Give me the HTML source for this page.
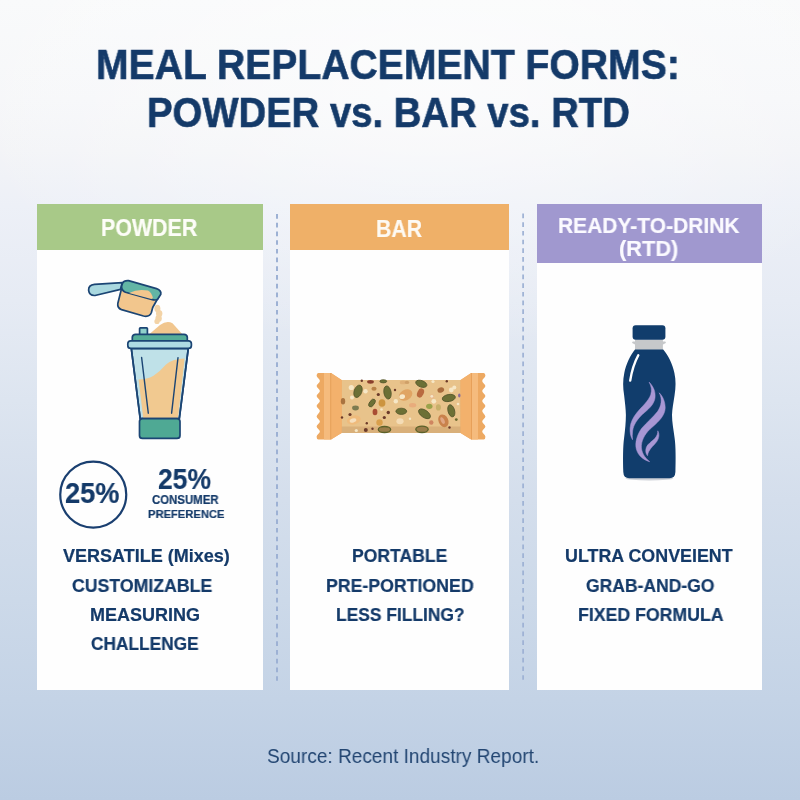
<!DOCTYPE html>
<html>
<head>
<meta charset="utf-8">
<title>Meal Replacement Forms</title>
<style>
html,body{margin:0;padding:0;}
body{width:800px;height:800px;overflow:hidden;font-family:"Liberation Sans",sans-serif;}
#page{position:relative;width:800px;height:800px;overflow:hidden;
 background:linear-gradient(180deg,#f9fafb 0px,#f6f7f9 100px,#f3f4f7 150px,#edf0f7 205px,#e6ebf4 300px,#dde5f0 400px,#d4deec 500px,#ccd9e9 600px,#c4d3e6 700px,#bbcce2 800px);}
#glow{position:absolute;left:0;top:0;width:800px;height:400px;background:radial-gradient(ellipse 480px 260px at 430px 90px,rgba(255,255,255,0.55),rgba(255,255,255,0) 100%);}
.panel{position:absolute;background:#fefefe;}
.hdr{position:absolute;}
.t{position:absolute;white-space:nowrap;line-height:1;transform-origin:0 0;will-change:transform;font-family:"Liberation Sans",sans-serif;}
svg{position:absolute;overflow:visible;}
</style>
</head>
<body>
<div id="page">
<div id="glow"></div>
<div class="panel" style="left:37px;top:204px;width:226px;height:486px;"></div>
<div class="panel" style="left:290px;top:204px;width:219px;height:486px;"></div>
<div class="panel" style="left:537px;top:204px;width:225px;height:486px;"></div>
<div class="hdr" style="left:37px;top:204px;width:226px;height:46px;background:#a8c988;"></div>
<div class="hdr" style="left:290px;top:204px;width:219px;height:46px;background:#efb068;"></div>
<div class="hdr" style="left:537px;top:204px;width:225px;height:58.5px;background:#a098cf;"></div>
<svg style="left:0;top:0" width="800" height="800" viewBox="0 0 800 800">
<line x1="277" y1="214" x2="277" y2="681.5" stroke="#9db1d4" stroke-width="2" stroke-dasharray="4.7 4.02"/>
<line x1="523.1" y1="213.5" x2="523.1" y2="681.5" stroke="#9db1d4" stroke-width="1.7" stroke-dasharray="4.7 4.01"/>
<circle cx="93.25" cy="494.6" r="33" fill="none" stroke="#1a3f70" stroke-width="2.2"/>
</svg>
<!-- shaker + scoop -->
<svg style="left:0;top:0" width="800" height="800" viewBox="0 0 800 800">
<g stroke="#1b4574" stroke-width="1.7" stroke-linejoin="round" stroke-linecap="round">
 <!-- scoop handle -->
 <path d="M122.3 282.6 L94.5 284.4 Q88.4 285.2 88.6 290.2 Q89.2 295.8 95 295.5 L120.5 289.3 Z" fill="#a9d8df"/>
 <!-- scoop body -->
 <path d="M121.3 289.5 L117.8 303.5 Q117.2 308 121.5 309.6 L143.5 316 Q149.5 317.3 151.4 312.5 L152.7 307.5 L158.6 297 L125 289 Z" fill="#f2c68d"/>
 <!-- scoop rim -->
 <path d="M122.4 283.4 Q124 280.2 128.5 280.6 L156.5 288.6 Q161.6 290.4 160.8 294.2 L157.6 299.3 Q155.8 300.6 151.5 299.4 L125.5 292.2 Q121.3 290.4 121.6 286.2 Z" fill="#62b5a5"/>
</g>
 <!-- powder inside rim -->
 <path d="M129 293 Q138 288.4 148 290.6 Q151.8 292.8 152.9 298.2 L151.4 299 Z" fill="#f2c68d"/>
 <!-- falling powder -->
 <ellipse cx="157.4" cy="308.6" rx="3" ry="3.8" fill="#f3d3a6"/>
 <ellipse cx="159.2" cy="313.6" rx="3.2" ry="3.6" fill="#f3d3a6"/>
 <ellipse cx="158.6" cy="318.4" rx="3.2" ry="3.4" fill="#f3d3a6"/>
 <ellipse cx="157" cy="321.4" rx="2.6" ry="2.6" fill="#f3d3a6"/>
 <!-- heap -->
 <path d="M149.5 334 L160 325 Q167 319.8 172.5 323.3 L182.2 334 Z" fill="#f1c68e"/>
<g stroke="#1b4574" stroke-width="1.7" stroke-linejoin="round" stroke-linecap="round">
 <!-- nub -->
 <rect x="139.6" y="327.8" width="7.8" height="7" rx="0.8" fill="#8fd0cb"/>
 <!-- glass body -->
 <path d="M131.3 348.4 L188.3 348.4 L179.3 418.6 L140.2 418.6 Z" fill="#bfe1e8"/>
</g>
 <!-- powder in glass -->
 <path d="M138.6 379.6 Q147 379.6 153.5 375.8 Q160 371.5 166 364.5 Q172 359 184.6 358.6 L178 417.9 L143.2 417.9 Z" fill="#f1c990"/>
<g stroke="#1b4574" stroke-width="1.7" stroke-linejoin="round" stroke-linecap="round" fill="none">
 <path d="M131.3 348.4 L188.3 348.4 L179.3 418.6 L140.2 418.6 Z"/>
 <line x1="141.6" y1="357.4" x2="148.3" y2="413.2" stroke-width="1.4"/>
 <line x1="178" y1="357.7" x2="171.6" y2="413.2" stroke-width="1.4"/>
 <!-- lid band -->
 <path d="M132.3 340.8 L132.3 337.2 Q132.6 334.4 135.6 334.4 L184 334.4 Q187 334.4 187.3 337.2 L187.3 340.8 Z" fill="#55ad98"/>
 <!-- lid rim -->
 <rect x="127.8" y="340.8" width="63.6" height="7.6" rx="3" fill="#aedbe3"/>
 <!-- base -->
 <rect x="139.5" y="418.6" width="40.5" height="19.8" rx="3" fill="#4fa994"/>
</g>
</svg>
<!-- bar -->
<svg style="left:0;top:0" width="800" height="800" viewBox="0 0 800 800">
 <!-- body -->
 <rect x="340" y="380" width="121" height="53" fill="#e8c38b"/>
 <rect x="340" y="426.5" width="121" height="6.5" fill="#d9b07a"/>
 <!-- left wrapper -->
  <path d="M331 373 L318.40000000000003 373 Q316.6 373 316.6 375.8 C316.6 377.33 319.9 379.37 319.9 380.9 C319.9 382.43 316.6 384.47 316.6 386 C316.6 387.50 319.9 389.50 319.9 391 C319.9 392.50 316.6 394.50 316.6 396 C316.6 397.50 319.9 399.50 319.9 401 C319.9 402.50 316.6 404.50 316.6 406 C316.6 407.50 319.9 409.50 319.9 411 C319.9 412.65 316.6 414.85 316.6 416.5 C316.6 418.00 319.9 420.00 319.9 421.5 C319.9 423.00 316.6 425.00 316.6 426.5 C316.6 428.03 319.9 430.07 319.9 431.6 C319.9 433.13 316.6 435.17 316.6 436.7 Q316.6 439.5 318.40000000000003 439.5 L331 439.5 L341.6 433 L341.6 380 Z" fill="#eda962"/>
 <path d="M331 373 L341.6 380 L341.6 433 L331 439.5 Z" fill="#f3b16c"/>
 <rect x="324" y="373" width="6.5" height="66.5" fill="#f5bb7d"/>
 <rect x="330.3" y="373" width="0.9" height="66.5" fill="#e6a058"/>
 <!-- right wrapper -->
 <path d="M471.2 373 L483.59999999999997 373 Q485.4 373 485.4 375.8 C485.4 377.33 482.2 379.37 482.2 380.9 C482.2 382.43 485.4 384.47 485.4 386 C485.4 387.50 482.2 389.50 482.2 391 C482.2 392.50 485.4 394.50 485.4 396 C485.4 397.50 482.2 399.50 482.2 401 C482.2 402.50 485.4 404.50 485.4 406 C485.4 407.50 482.2 409.50 482.2 411 C482.2 412.65 485.4 414.85 485.4 416.5 C485.4 418.00 482.2 420.00 482.2 421.5 C482.2 423.00 485.4 425.00 485.4 426.5 C485.4 428.03 482.2 430.07 482.2 431.6 C482.2 433.13 485.4 435.17 485.4 436.7 Q485.4 439.5 483.59999999999997 439.5 L471.2 439.5 L460.6 433 L460.6 380 Z" fill="#eda962"/>
 <path d="M471.2 373 L460.6 380 L460.6 433 L471.2 439.5 Z" fill="#f3b16c"/>
 <rect x="472" y="373" width="6" height="66.5" fill="#f5bb7d"/>
 <rect x="471.1" y="373" width="0.9" height="66.5" fill="#e6a058"/>
 <!-- seeds -->
 <g fill="#6c7035" stroke="#53552a" stroke-width="0.8">
  <ellipse cx="358" cy="391.3" rx="3.8" ry="6.4" transform="rotate(20 358 391.3)"/>
  <ellipse cx="387.5" cy="392.5" rx="3.6" ry="6.6" transform="rotate(-10 387.5 392.5)"/>
  <ellipse cx="421.3" cy="383.8" rx="5.8" ry="3.2" transform="rotate(20 421.3 383.8)"/>
  <ellipse cx="448.8" cy="398" rx="6.6" ry="3.5" transform="rotate(-10 448.8 398)"/>
  <ellipse cx="451.3" cy="410.8" rx="3.3" ry="6.2" transform="rotate(-15 451.3 410.8)"/>
  <ellipse cx="424.5" cy="413.8" rx="6.8" ry="3.6" transform="rotate(35 424.5 413.8)"/>
  <ellipse cx="401.3" cy="411.3" rx="5.4" ry="3.1"/>
  <ellipse cx="372" cy="403" rx="2.4" ry="4.4" transform="rotate(35 372 403)"/>
  <ellipse cx="384.5" cy="429.5" rx="6.2" ry="3" fill="#9a7d4a" stroke="#5a6129" stroke-width="1.3"/>
  <ellipse cx="422" cy="429.3" rx="6.2" ry="3.2" fill="#9a7d4a" stroke="#5a6129" stroke-width="1.3"/>
  <ellipse cx="383.3" cy="381.3" rx="3.4" ry="1.6"/>
 </g>
 <ellipse cx="429.3" cy="406.3" rx="3.2" ry="2.6" fill="#9aa24a"/>
 <ellipse cx="355.5" cy="408" rx="3.4" ry="2.4" fill="#7c7b50"/>
 <g>
  <ellipse cx="370.5" cy="381.8" rx="3.4" ry="1.9" fill="#8a3f2c"/>
  <ellipse cx="420.5" cy="393" rx="3.2" ry="4.8" transform="rotate(25 420.5 393)" fill="#b96a3f"/>
  <ellipse cx="443.4" cy="420.8" rx="4.9" ry="6.6" transform="rotate(-25 443.4 420.8)" fill="#c9824c"/>
  <ellipse cx="442.6" cy="420.6" rx="1.8" ry="3.6" transform="rotate(-25 442.6 420.6)" fill="#e0a683"/>
  <ellipse cx="375" cy="412" rx="2.4" ry="3.3" fill="#a94d33"/>
  <ellipse cx="382" cy="403" rx="3.4" ry="3.8" fill="#cc943f"/>
  <ellipse cx="440.8" cy="390" rx="3.4" ry="2.6" transform="rotate(-20 440.8 390)" fill="#a86b3c"/>
  <ellipse cx="374" cy="388.8" rx="2.6" ry="2" fill="#b98247"/>
  <ellipse cx="379.5" cy="422.5" rx="3.2" ry="3.2" fill="#d9a04c"/>
  <ellipse cx="343" cy="401.3" rx="2.2" ry="3.3" fill="#a9733f"/>
  <ellipse cx="405.6" cy="395" rx="7.2" ry="5.2" transform="rotate(-30 405.6 395)" fill="#e0a463"/>
  <ellipse cx="402.4" cy="396.6" rx="2.6" ry="2.4" fill="#f8e8cc"/>
  <ellipse cx="353.8" cy="420" rx="7" ry="4.4" transform="rotate(-15 353.8 420)" fill="#efbb7c"/>
  <ellipse cx="353" cy="420.5" rx="3.4" ry="2" transform="rotate(-15 353 420.5)" fill="#f6dfbd"/>
  <ellipse cx="412.6" cy="405.2" rx="3.6" ry="2.2" fill="#e8ac7c"/>
  <ellipse cx="438.4" cy="407.4" rx="2.5" ry="3.1" fill="#c7b06a"/>
  <ellipse cx="432" cy="396.4" rx="2" ry="2" fill="#eab592"/>
  <ellipse cx="400" cy="421.3" rx="3.6" ry="3" fill="#f4dcb6"/>
  <ellipse cx="403" cy="382.4" rx="3.2" ry="1.9" fill="#dfb178"/>
  <ellipse cx="407" cy="382.4" rx="2.2" ry="1.6" fill="#cfa068"/>
 </g>
 <g fill="#6b3a2a">
  <circle cx="378.3" cy="394.5" r="1.6"/><circle cx="395" cy="390" r="1.2"/><circle cx="388.3" cy="412.5" r="1.7"/>
  <circle cx="384.3" cy="417.5" r="1.6"/><circle cx="350" cy="414.5" r="1.6"/><circle cx="365.8" cy="430" r="2"/>
  <circle cx="372.5" cy="428.8" r="1.2"/><circle cx="449.5" cy="427.5" r="1.2"/><circle cx="431.3" cy="422.5" r="2.2" fill="#cf8560"/>
  <circle cx="366.8" cy="423.3" r="1.2"/><circle cx="456.3" cy="419.6" r="1.4" fill="#6d6a30"/><circle cx="361.8" cy="380.8" r="1.2"/>
  <circle cx="446.8" cy="381.3" r="1.2"/><circle cx="342" cy="417.5" r="1.2"/><ellipse cx="459.3" cy="395.6" rx="1.2" ry="2" fill="#8a6a9a"/>
 </g>
 <g fill="#f6e7c6">
  <circle cx="351.3" cy="387.5" r="2.6"/><circle cx="365.5" cy="391.3" r="2.2"/><circle cx="395.8" cy="401.3" r="2.2"/>
  <circle cx="401.3" cy="397" r="2"/><circle cx="433.8" cy="401.3" r="2.4"/><circle cx="451.3" cy="390" r="2.4"/>
  <circle cx="454.3" cy="387.5" r="2"/><circle cx="352" cy="397.5" r="2"/><circle cx="410" cy="418.8" r="1.2"/>
  <circle cx="431.8" cy="396.3" r="1.4"/><circle cx="356.3" cy="430.5" r="1.6"/><circle cx="433" cy="381.5" r="1.6"/>
  <circle cx="458" cy="404" r="1.3"/><circle cx="381.5" cy="409.5" r="1.3"/>
 </g>
</svg>
<!-- bottle -->
<svg style="left:0;top:0" width="800" height="800" viewBox="0 0 800 800">
 <ellipse cx="649.4" cy="478.6" rx="24" ry="1.8" fill="#cfd2d8"/>
 <!-- neck ring -->
 <rect x="635" y="339.5" width="27.9" height="10.5" fill="#c6c8ca"/>
 <path d="M632.2 342.2 Q632.2 341.5 633.2 341.5 L664.8 341.5 Q665.8 341.5 665.8 342.2 L665.8 343 L663 344.4 L635 344.4 L632.2 343 Z" fill="#c6c8ca"/>
 <!-- body -->
 <path d="M635 349.4 L663.2 349.4 C668 355 672.8 364 674.4 373 C676 380 675.8 388 674.6 395 C673.4 403 672.2 409 672 415 C672 422 673.6 430 674.6 438 C675.8 446 675.8 460 675.4 472 Q675.2 478.2 669.5 478.2 L629.2 478.2 Q623.5 478.2 623.3 472 C622.9 460 622.9 446 624.1 438 C625.1 430 625.9 422 625.9 415 C625.8 409 625 403 624.1 395 C622.9 388 622.7 380 624.3 373 C625.9 364 630.5 355 635 349.4 Z" fill="#113d6c"/>
 <!-- cap -->
 <rect x="632.6" y="325.2" width="32.8" height="14.6" rx="3" fill="#113d6c"/>
 <!-- highlight -->
 <path d="M638.3 355.3 Q632.5 366 630.2 380.6" fill="none" stroke="#ffffff" stroke-width="2.4" stroke-linecap="round"/>
 <!-- swirls -->
 <g fill="#a897d4" stroke="#a897d4" stroke-width="0.5" stroke-linejoin="round">
  <path d="M649.1 382.1 C653.5 386.5 655.8 392 655 398 C654 405 648 409.5 642.6 414.2 C637.5 419 633.5 424.5 632.6 431 C632.2 434 632.2 437 632.5 439.7 C630.5 436.5 629.8 432 630.1 428 C630.6 422 633 417.5 637 412.5 C642 406.5 648.5 401 650.8 394.5 C652.2 390 651.2 386 649.1 382.1 Z"/>
  <path d="M659.2 392.8 C663 396.5 665.2 402 665.2 408 C665 415 659.5 421 652.1 427.3 C646 432.5 642 438.5 641.4 445.5 C641 452 644.5 457.5 649.7 461.7 C643.5 460 638 455.5 636.3 449 C634.8 442.5 637 435 641.5 428.5 C646.5 422.5 653 417.5 657.5 411.5 C661.5 406 662.5 399 659.2 392.8 Z"/>
  <path d="M657.8 430.8 C659.6 434 659.2 438 656.8 441.5 C654 445.5 650.5 447.8 648.8 451.5 C648 453 647.7 454.5 647.55 455.75 C645.6 453.5 645.3 450.5 646.3 447.5 C647.8 443.5 652 441.5 654.8 438.5 C657 436 657.9 433.5 657.8 430.8 Z"/>
 </g>
</svg>

<div class="t" style="left:95.55px;top:44.10px;font-size:41.64px;font-weight:bold;color:#143a69;-webkit-text-stroke:0.6px #143a69;transform:scaleX(0.9396)">MEAL REPLACEMENT FORMS:</div>
<div class="t" style="left:147.11px;top:91.60px;font-size:41.64px;font-weight:bold;color:#143a69;-webkit-text-stroke:0.6px #143a69;transform:scaleX(0.9196)">POWDER vs. BAR vs. RTD</div>
<div class="t" style="left:101.26px;top:217.23px;font-size:23.47px;font-weight:bold;color:#fdfdf8;-webkit-text-stroke:0.2px #fdfdf8;transform:scaleX(0.9113)">POWDER</div>
<div class="t" style="left:376.18px;top:217.99px;font-size:23.11px;font-weight:bold;color:#fdfaf4;-webkit-text-stroke:0.2px #fdfaf4;transform:scaleX(0.9173)">BAR</div>
<div class="t" style="left:558.19px;top:213.61px;font-size:22.67px;font-weight:bold;color:#fbfaff;-webkit-text-stroke:0.2px #fbfaff;transform:scaleX(0.9262)">READY-TO-DRINK</div>
<div class="t" style="left:618.98px;top:238.41px;font-size:22.02px;font-weight:bold;color:#fbfaff;-webkit-text-stroke:0.2px #fbfaff;transform:scaleX(0.9898)">(RTD)</div>
<div class="t" style="left:65.40px;top:478.06px;font-size:29.29px;font-weight:bold;color:#143a69;-webkit-text-stroke:0.2px #143a69;transform:scaleX(0.9294)">25%</div>
<div class="t" style="left:157.92px;top:465.37px;font-size:28.92px;font-weight:bold;color:#143a69;-webkit-text-stroke:0.2px #143a69;transform:scaleX(0.9148)">25%</div>
<div class="t" style="left:151.64px;top:495.07px;font-size:11.85px;font-weight:bold;color:#143a69;-webkit-text-stroke:0.2px #143a69;transform:scaleX(0.9631)">CONSUMER</div>
<div class="t" style="left:148.05px;top:508.88px;font-size:11.48px;font-weight:bold;color:#143a69;-webkit-text-stroke:0.2px #143a69;transform:scaleX(0.9750)">PREFERENCE</div>
<div class="t" style="left:62.50px;top:547.65px;font-size:17.66px;font-weight:bold;color:#143a69;-webkit-text-stroke:0.2px #143a69;transform:scaleX(1.0205)">VERSATILE (Mixes)</div>
<div class="t" style="left:71.95px;top:576.60px;font-size:18.02px;font-weight:bold;color:#143a69;-webkit-text-stroke:0.2px #143a69;transform:scaleX(0.9821)">CUSTOMIZABLE</div>
<div class="t" style="left:90.13px;top:605.85px;font-size:18.02px;font-weight:bold;color:#143a69;-webkit-text-stroke:0.2px #143a69;transform:scaleX(0.9960)">MEASURING</div>
<div class="t" style="left:90.71px;top:635.03px;font-size:18.39px;font-weight:bold;color:#143a69;-webkit-text-stroke:0.2px #143a69;transform:scaleX(0.9416)">CHALLENGE</div>
<div class="t" style="left:352.15px;top:547.65px;font-size:17.66px;font-weight:bold;color:#143a69;-webkit-text-stroke:0.2px #143a69;transform:scaleX(0.9947)">PORTABLE</div>
<div class="t" style="left:325.89px;top:576.85px;font-size:18.02px;font-weight:bold;color:#143a69;-webkit-text-stroke:0.2px #143a69;transform:scaleX(0.9836)">PRE-PORTIONED</div>
<div class="t" style="left:335.91px;top:606.35px;font-size:18.02px;font-weight:bold;color:#143a69;-webkit-text-stroke:0.2px #143a69;transform:scaleX(0.9665)">LESS FILLING?</div>
<div class="t" style="left:565.41px;top:547.65px;font-size:17.66px;font-weight:bold;color:#143a69;-webkit-text-stroke:0.2px #143a69;transform:scaleX(1.0114)">ULTRA CONVEIENT</div>
<div class="t" style="left:585.70px;top:576.85px;font-size:18.02px;font-weight:bold;color:#143a69;-webkit-text-stroke:0.2px #143a69;transform:scaleX(0.9728)">GRAB-AND-GO</div>
<div class="t" style="left:577.64px;top:606.35px;font-size:18.02px;font-weight:bold;color:#143a69;-webkit-text-stroke:0.2px #143a69;transform:scaleX(0.9834)">FIXED FORMULA</div>
<div class="t" style="left:267.40px;top:745.88px;font-size:20.93px;font-weight:normal;color:#234672;-webkit-text-stroke:0.0px #234672;transform:scaleX(0.9108)">Source: Recent Industry Report.</div>
</div>
</body>
</html>
